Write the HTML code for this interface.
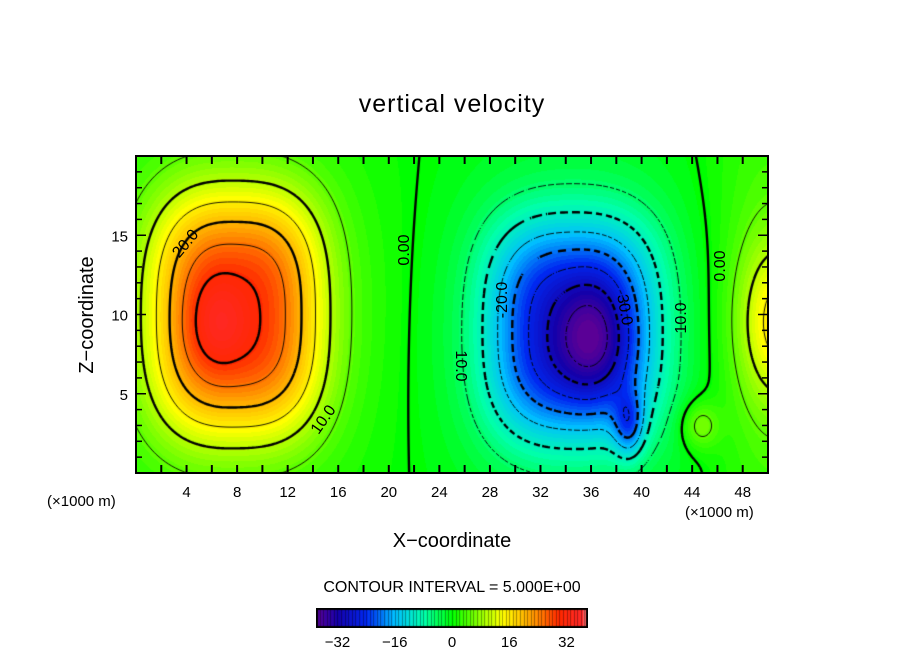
<!DOCTYPE html>
<html><head><meta charset="utf-8"><style>
body{margin:0;background:#fff;}
#wrap{position:relative;width:904px;height:654px;overflow:hidden;font-family:"Liberation Sans",sans-serif;}
canvas{position:absolute;}
svg{position:absolute;left:0;top:0;}
</style></head><body>
<div id="wrap">
<canvas id="field" width="632" height="317" style="left:136px;top:156px"></canvas>
<canvas id="cbar" width="272" height="20" style="left:316px;top:608px"></canvas>
<svg id="ov" width="904" height="654"></svg>
</div>
<script>
// Blob data (x in km, z in km)
const blobX=[8,6.5,7.5,34.5,36,34.5,39,51,44.6,50];
const blobZ=[10,9.5,10,9,8.5,9,3,9.5,3,10];
const blobAmp=[22,5,8,-20,-11,-8,-12,13,7,5];
const blobSx=[6.6,2.5,11,6.5,3,10,1.2,3.2,1.5,5];
const blobSz=[7.6,2.8,11,6.8,3.5,10,2,5,1.5,16];
const blobP=[3,2,2,3,2,2,2,2,2,2];
const xTicks=[4,8,12,16,20,24,28,32,36,40,44,48];
const zTicks=[5,10,15];
const cbTicks=[-32,-16,0,16,32];
const levels=[-35,-30,-25,-20,-15,-10,-5,0,5,10,15,20,25,30,35];

const PX0=136,PX1=768,PY0=156,PY1=473;
const XMAX=50,ZMAX=20;
const sx=x=>PX0+(x/XMAX)*(PX1-PX0);
const sy=z=>PY1-(z/ZMAX)*(PY1-PY0);
function f(x,z){let v=0;for(let i=0;i<blobX.length;i++){const dx=Math.abs(x-blobX[i])/blobSx[i],dz=Math.abs(z-blobZ[i])/blobSz[i];const p=blobP[i];v+=blobAmp[i]*Math.exp(-(Math.pow(dx,p)+Math.pow(dz,p)));}return v;}
const stops=[[-38,[90,0,150]],[-32,[20,0,170]],[-24,[0,40,240]],[-16,[0,190,255]],[-8,[0,255,170]],[0,[0,255,0]],[8,[150,255,0]],[14,[255,255,0]],[22,[255,160,0]],[30,[255,40,0]],[36,[255,40,40]],[38,[255,150,150]]];
function col(v){v=Math.round(v);if(v<=stops[0][0])return stops[0][1];for(let i=1;i<stops.length;i++){if(v<=stops[i][0]){const a=stops[i-1],b=stops[i],t=(v-a[0])/(b[0]-a[0]);return a[1].map((c,k)=>Math.round(c+(b[1][k]-c)*t));}}return stops[stops.length-1][1];}
const cv=document.getElementById('field'),ctx=cv.getContext('2d');const W=cv.width,H=cv.height;
const img=ctx.createImageData(W,H);
for(let j=0;j<H;j++)for(let i=0;i<W;i++){const x=(i+0.5)/W*XMAX,z=(1-(j+0.5)/H)*ZMAX;const c=col(f(x,z));const p=(j*W+i)*4;img.data[p]=c[0];img.data[p+1]=c[1];img.data[p+2]=c[2];img.data[p+3]=255;}
ctx.putImageData(img,0,0);
const st=2,nx=Math.ceil(W/st)+1,ny=Math.ceil(H/st)+1;const g=[];
for(let j=0;j<ny;j++){g[j]=[];for(let i=0;i<nx;i++)g[j][i]=f(i*st/W*XMAX,(1-j*st/H)*ZMAX);}
levels.forEach(L=>{ctx.beginPath();const major=(L%10===0);
 for(let j=0;j<ny-1;j++)for(let i=0;i<nx-1;i++){
  const a=g[j][i],b=g[j][i+1],c=g[j+1][i+1],d=g[j+1][i];const pts=[];
  const e=(v1,v2,x1,y1,x2,y2)=>{if((v1-L)*(v2-L)<0){const t=(L-v1)/(v2-v1);pts.push([x1+(x2-x1)*t,y1+(y2-y1)*t]);}};
  const X=i*st,Y=j*st;
  e(a,b,X,Y,X+st,Y);e(b,c,X+st,Y,X+st,Y+st);e(c,d,X+st,Y+st,X,Y+st);e(d,a,X,Y+st,X,Y);
  for(let k=0;k+1<pts.length;k+=2){
   if(L<0){const per=major?12:8;const m=((i+j)*st)%per;if(m>=per*0.55)continue;}
   ctx.moveTo(pts[k][0],pts[k][1]);ctx.lineTo(pts[k+1][0],pts[k+1][1]);}
 }
 ctx.strokeStyle='#000';ctx.lineWidth=major?2.4:0.9;ctx.lineCap='butt';ctx.stroke();});
const cb=document.getElementById('cbar'),cc=cb.getContext('2d');
for(let i=0;i<272;i++){const v=-38+(i/272)*76;const c=col(v);cc.fillStyle=`rgb(${c})`;cc.fillRect(i,0,1,20);}
for(let v=-38;v<=38;v++){const x=(v+38)/76*272;cc.fillStyle='rgba(0,0,0,0.35)';cc.fillRect(Math.round(x),0,1,20);}
cc.strokeStyle='#000';cc.lineWidth=2;cc.strokeRect(1,1,270,18);
const NS='http://www.w3.org/2000/svg',ov=document.getElementById('ov');
function el(t,a,txt){const e=document.createElementNS(NS,t);for(const k in a)e.setAttribute(k,a[k]);if(txt!==undefined)e.textContent=txt;ov.appendChild(e);return e;}
let r=el('rect',{x:PX0,y:PY0,width:PX1-PX0,height:PY1-PY0,fill:'none',stroke:'#000','stroke-width':2});


for(let x=2;x<50;x+=2){const X=sx(x);el('line',{x1:X,y1:PY1,x2:X,y2:PY1-8,stroke:'#000','stroke-width':2});el('line',{x1:X,y1:PY0,x2:X,y2:PY0+8,stroke:'#000','stroke-width':2});}
for(let z=1;z<20;z++){const Y=sy(z),l=z%5===0?10:6;el('line',{x1:PX0,y1:Y,x2:PX0+l,y2:Y,stroke:'#000','stroke-width':1.5});el('line',{x1:PX1,y1:Y,x2:PX1-l,y2:Y,stroke:'#000','stroke-width':1.5});}
xTicks.forEach(v=>{const t=el('text',{x:sx(v),y:497,'font-size':15,'text-anchor':'middle'},String(v));

});
zTicks.forEach(v=>{const t=el('text',{x:128,y:sy(v)+6,'font-size':15,'text-anchor':'end'},String(v));

});
cbTicks.forEach(v=>{const t=el('text',{x:316+(v+38)/76*272,y:647,'font-size':15,'text-anchor':'middle'},(v<0?'\u2212':'')+Math.abs(v));

});
const labs=[['20.0',186,244,-50],['10.0',324,420,-55],['0.00',405,250,-90],['-20.0',503,300,-90],['10.0',460,366,90],['30.0',624,310,80],['10.0',682,318,-90],['0.00',721,266,-90]];
labs.forEach(a=>{const t=el('text',{x:a[1],y:a[2],'font-size':16,'text-anchor':'middle','dominant-baseline':'middle',transform:`rotate(${a[3]} ${a[1]} ${a[2]})`},a[0]);

});
</script>
<svg width="904" height="654" style="position:absolute;left:0;top:0;pointer-events:none">
<text x="452" y="112" font-size="25" text-anchor="middle" font-family="Liberation Sans,sans-serif" letter-spacing="1">vertical velocity</text>
<text x="452" y="547" font-size="20" text-anchor="middle" font-family="Liberation Sans,sans-serif">X−coordinate</text>
<text x="93" y="315" font-size="20" text-anchor="middle" font-family="Liberation Sans,sans-serif" transform="rotate(-90 93 315)">Z−coordinate</text>
<text x="47" y="506" font-size="15" font-family="Liberation Sans,sans-serif">(×1000 m)</text>
<text x="685" y="517" font-size="15" font-family="Liberation Sans,sans-serif">(×1000 m)</text>
<text x="452" y="592" font-size="16" text-anchor="middle" font-family="Liberation Sans,sans-serif">CONTOUR INTERVAL = 5.000E+00</text>
</svg>
</body></html>
